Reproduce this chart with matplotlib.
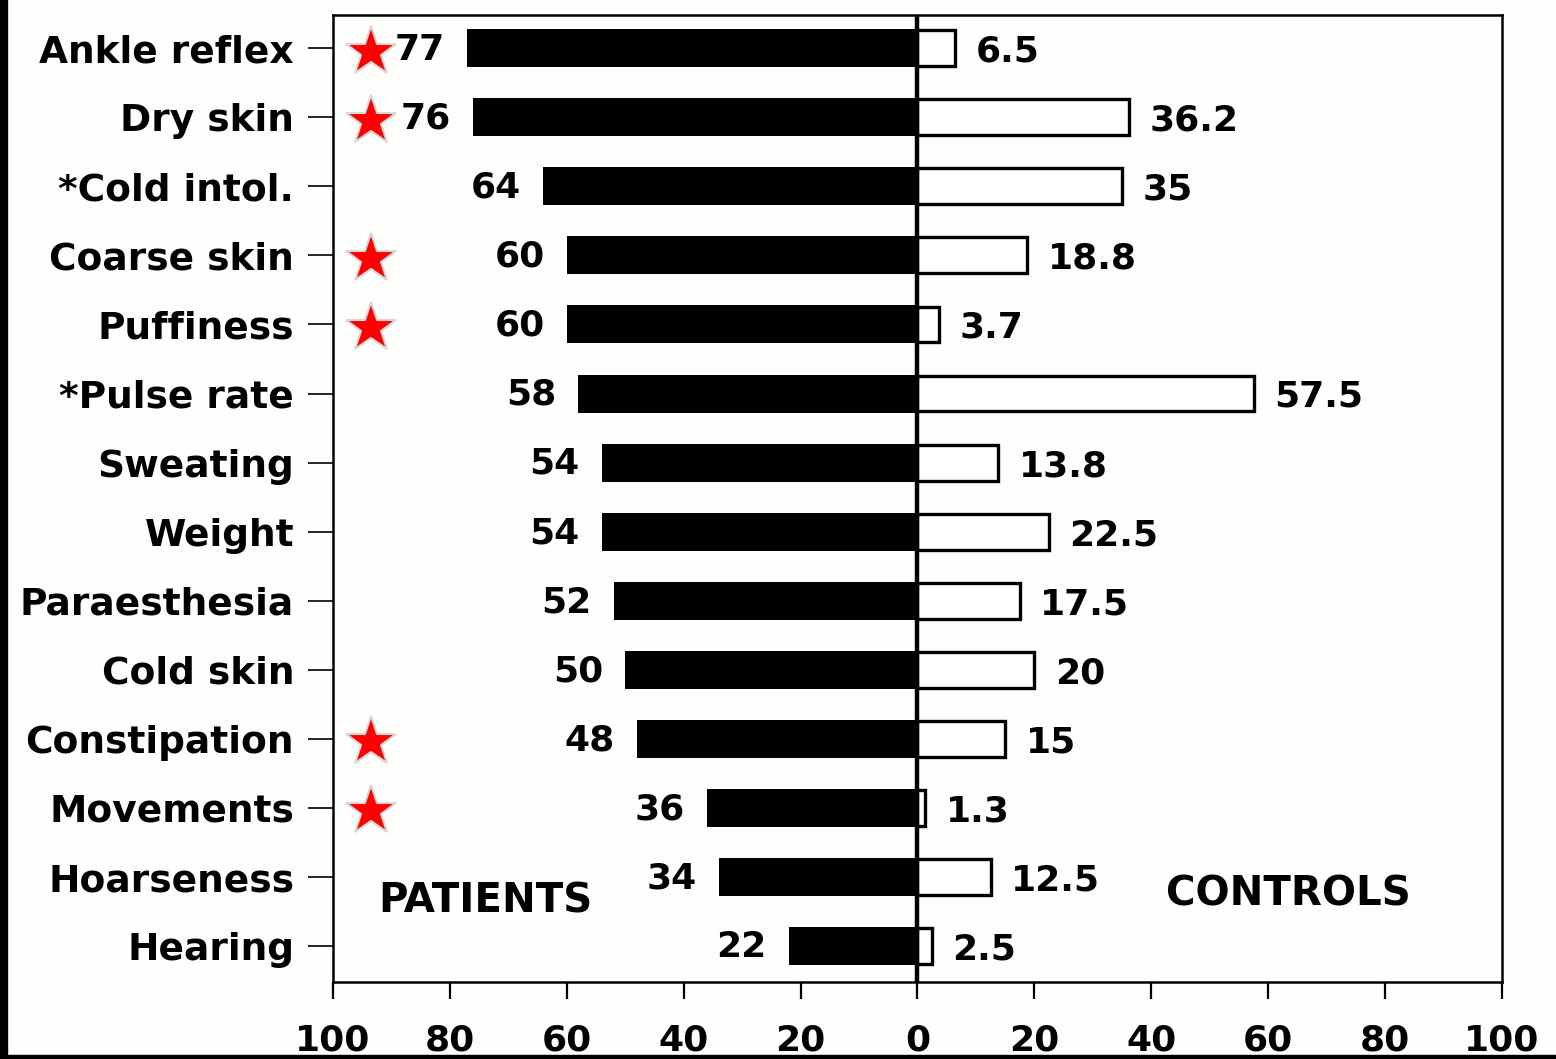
import numpy as np
from matplotlib import pyplot as plt
from matplotlib.patches import Rectangle

# data
symptoms = ['Ankle reflex', 'Dry skin', '*Cold intol.', 'Coarse skin', 'Puffiness',
            '*Pulse rate', 'Sweating', 'Weight', 'Paraesthesia', 'Cold skin',
            'Constipation', 'Movements', 'Hoarseness', 'Hearing']
patients = [77, 76, 64, 60, 60, 58, 54, 54, 52, 50, 48, 36, 34, 22]
controls = [6.5, 36.2, 35, 18.8, 3.7, 57.5, 13.8, 22.5, 17.5, 20, 15, 1.3, 12.5, 2.5]
control_labels = ['6.5', '36.2', '35', '18.8', '3.7', '57.5', '13.8', '22.5', '17.5',
                  '20', '15', '1.3', '12.5', '2.5']
starred = ['Ankle reflex', 'Dry skin', 'Coarse skin', 'Puffiness', 'Constipation', 'Movements']
x_ticks = [-100, -80, -60, -40, -20, 0, 20, 40, 60, 80, 100]


def data_plot():
    fig = plt.figure(figsize=(15.56, 10.59), dpi=100)
    fig.patch.set_facecolor('#fefefc')
    ax = fig.add_axes([0.214, 0.0727, 0.7513, 0.9131])
    ax.set_facecolor('#fefefc')

    y = np.arange(len(symptoms))
    val_font = dict(fontsize=26, fontweight='bold')
    big_font = dict(fontsize=29, fontweight='bold')

    ax.barh(y, [-p for p in patients], height=0.55, color='black', zorder=2)
    ax.barh(y, controls, height=0.52, color='white', edgecolor='black',
            linewidth=2.4, zorder=2)
    ax.axvline(0, color='black', linewidth=3.2, zorder=3)

    for i in range(len(symptoms)):
        ax.text(-patients[i] - 3.8, y[i] + 0.02, str(patients[i]), ha='right',
                va='center', **val_font)
        ax.text(controls[i] + 3.5, y[i] + 0.05, control_labels[i], ha='left',
                va='center', **val_font)
        if symptoms[i] in starred:
            ax.plot(-93.5, y[i] + 0.05, marker='*', markersize=38, color='red',
                    markeredgecolor='#d8d8d8', markeredgewidth=1.5, zorder=4)

    ax.text(-74, 12.35, 'PATIENTS', ha='center', va='center', **big_font)
    ax.text(63.5, 12.25, 'CONTROLS', ha='center', va='center', **big_font)

    ax.set_xlim(-100, 100)
    ax.set_ylim(13.52, -0.48)
    ax.set_xticks(x_ticks)
    ax.set_xticklabels([str(abs(t)) for t in x_ticks], fontsize=26, fontweight='bold')
    ax.set_yticks(y)
    ax.set_yticklabels(symptoms, fontsize=27, fontweight='bold')
    ax.tick_params(axis='y', length=18, width=1.2, pad=10)
    ax.tick_params(axis='x', length=12, width=1.6, pad=18)
    for s in ax.spines.values():
        s.set_linewidth(1.8)

    # dark scan edges of the original
    fig.patches.append(Rectangle((0, 0), 0.0045, 1, transform=fig.transFigure,
                                 color='black', zorder=0))
    fig.patches.append(Rectangle((0, 0), 1, 0.004, transform=fig.transFigure,
                                 color='black', zorder=0))

    fig.savefig('out.png', dpi=100, facecolor=fig.get_facecolor())


if __name__ == '__main__':
    data_plot()
